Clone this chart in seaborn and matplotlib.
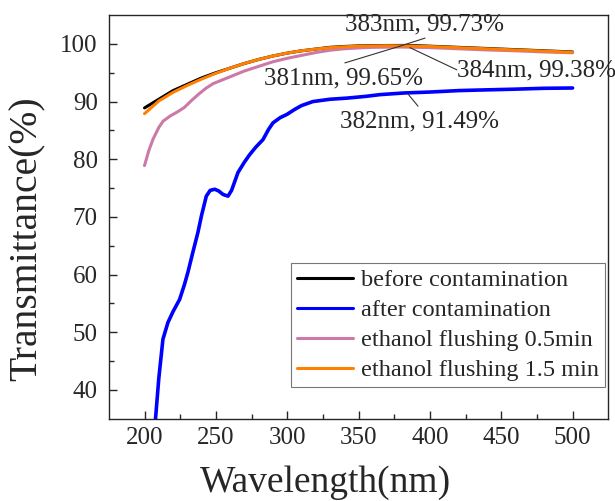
import numpy as np
import pandas as pd
import matplotlib
matplotlib.use("Agg")
import matplotlib.pyplot as plt
import seaborn as sns

# ---- data ----
wl_before = [200, 210, 220, 230, 240, 250, 260, 270, 280, 290, 300, 310, 320, 330,
             340, 350, 360, 370, 383, 390, 400, 420, 440, 460, 480, 500]
t_before = [88.9, 90.4, 91.9, 93.0, 94.1, 95.0, 95.8, 96.6, 97.3, 97.9, 98.4, 98.8,
            99.1, 99.4, 99.55, 99.65, 99.7, 99.72, 99.73, 99.7, 99.6, 99.4, 99.2,
            99.0, 98.8, 98.6]

wl_after = [204, 207.7, 210, 212.9, 216.4, 220, 224.6, 228, 230.4, 234, 237.4, 240,
            243.3, 246, 249.2, 252, 255, 258.5, 261, 265.5, 270, 273.7, 278, 283, 287,
            290, 295, 300, 305, 310, 318, 330, 342, 355, 365, 382, 400, 420, 435, 460,
            480, 500]
t_after = [25.0, 35.0, 42.0, 48.8, 51.7, 53.6, 55.7, 58.3, 60.4, 64.0, 67.3, 70.3,
           73.6, 74.6, 74.8, 74.5, 73.9, 73.6, 74.6, 77.7, 79.5, 80.8, 82.1, 83.4,
           85.2, 86.3, 87.2, 87.8, 88.6, 89.3, 90.0, 90.4, 90.6, 90.9, 91.2, 91.49,
           91.65, 91.9, 92.0, 92.15, 92.3, 92.35]

wl_eth05 = [200, 203, 206, 210, 213, 218, 223, 228, 233, 238, 243, 248, 255, 262, 270,
            280, 290, 300, 310, 320, 330, 340, 350, 360, 381, 400, 420, 440, 460, 480, 500]
t_eth05 = [78.9, 81.5, 83.5, 85.5, 86.6, 87.5, 88.2, 89.0, 90.2, 91.3, 92.3, 93.1,
           93.8, 94.5, 95.3, 96.1, 96.9, 97.5, 98.0, 98.5, 98.9, 99.15, 99.3, 99.4,
           99.45, 99.35, 99.15, 98.95, 98.8, 98.6, 98.45]

wl_eth15 = [200, 205, 210, 220, 230, 240, 250, 260, 270, 280, 290, 300, 310, 320, 330,
            340, 350, 360, 370, 384, 400, 420, 440, 460, 480, 500]
t_eth15 = [87.9, 89.0, 90.1, 91.6, 92.8, 93.9, 94.9, 95.8, 96.6, 97.3, 97.9, 98.4,
           98.8, 99.1, 99.35, 99.5, 99.6, 99.65, 99.68, 99.65, 99.55, 99.35, 99.15,
           98.95, 98.75, 98.55]

series_names = ["before contamination", "after contamination",
                "ethanol flushing 0.5min", "ethanol flushing 1.5 min"]
colors = ["#000000", "#0000FF", "#CC79A7", "#FF8000"]

annot_text = ["383nm, 99.73%", "381nm, 99.65%", "384nm, 99.38%", "382nm, 91.49%"]
annot_pt = [(379, 99.6), (379, 99.6), (386, 99.35), (384.7, 91.3)]
annot_txt = [(396, 103.4), (339.7, 94.0), (419, 95.45), (393, 86.6)]
annot_end = [(396.6, 101.0), (340.4, 96.7), (418.9, 95.5), (391.7, 89.2)]

# ---- build frame ----
frames = []
for name, w, t in zip(series_names,
                      [wl_before, wl_after, wl_eth05, wl_eth15],
                      [t_before, t_after, t_eth05, t_eth15]):
    frames.append(pd.DataFrame({"Wavelength": w, "Transmittance": t, "series": name}))
df = pd.concat(frames, ignore_index=True)

sns.set_style("ticks")
plt.rcParams["font.family"] = ["Liberation Serif", "DejaVu Serif"]
plt.rcParams["xtick.direction"] = "in"
plt.rcParams["ytick.direction"] = "in"

fig = plt.figure(figsize=(6.15, 5.01), dpi=100)
ax = fig.add_axes([0.177, 0.164, 0.812, 0.806])

sns.lineplot(data=df, x="Wavelength", y="Transmittance", hue="series",
             hue_order=series_names, palette=colors, linewidth=2.2,
             sort=False, estimator=None, ax=ax)
for ln in ax.get_lines():
    if ln.get_color() in ("#0000FF", "#0000ff", (0.0, 0.0, 1.0)):
        ln.set_linewidth(2.6)

ax.set_xlim(175, 525)
ax.set_ylim(35, 105)
ax.set_xticks([200, 250, 300, 350, 400, 450, 500])
ax.set_xticks([225, 275, 325, 375, 425, 475], minor=True)
ax.set_yticks([40, 50, 60, 70, 80, 90, 100])
ax.set_yticks([45, 55, 65, 75, 85, 95], minor=True)
ax.tick_params(which="major", length=6, width=1.0, labelsize=18)
ax.tick_params(axis="x", which="major", pad=6)
ax.tick_params(axis="y", which="major", pad=8)
ax.tick_params(which="minor", length=3.5, width=1.0)
for s in ax.spines.values():
    s.set_linewidth(1.0)
    s.set_visible(True)

ax.set_xlabel("Wavelength(nm)", fontsize=27)
ax.set_ylabel("Transmittance(%)", fontsize=28.5)
# label positions in axes coords (reference places them off-centre)
ax.xaxis.set_label_coords(0.433, -0.115, transform=ax.transAxes)
ax.xaxis.label.set_va("top")
ax.yaxis.set_label_coords(-0.164, 0.447, transform=ax.transAxes)
ax.yaxis.label.set_va("center")

for txt, p, tp, e in zip(annot_text, annot_pt, annot_txt, annot_end):
    ax.plot([p[0], e[0]], [p[1], e[1]], color="#333333", linewidth=0.8)
    ha = "left" if tp[0] > 410 else "center"
    ax.text(tp[0], tp[1], txt, fontsize=18, ha=ha, va="center", clip_on=False)

leg = ax.legend(loc="lower right", bbox_to_anchor=(0.993, 0.078), borderaxespad=0,
                fontsize=17.5, frameon=True, fancybox=False, edgecolor="#555555",
                handlelength=2.3, handletextpad=0.3, borderpad=0.25, labelspacing=0.33)
leg.get_frame().set_linewidth(0.8)
for h in leg.get_lines():
    h.set_linewidth(2.2)

fig.savefig("out.png", dpi=100)
